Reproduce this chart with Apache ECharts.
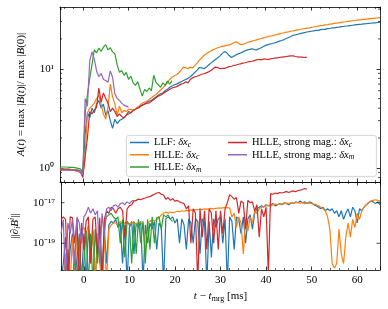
<!DOCTYPE html>
<html><head><meta charset="utf-8">
<script src="https://cdn.jsdelivr.net/npm/echarts@6/dist/echarts.min.js"></script>
<style>html,body{margin:0;padding:0;background:#fff}#c{width:388px;height:309px}</style>
</head><body><div id="c"></div>
<script>
// ---- time samples [ms] ----
const time = [-5,-4.5,-4,-3.5,-3,-2.5,-2,-1.5,-1,-0.5,0,0.5,1,1.5,2,2.5,3,3.5,4,4.5,5,5.5,6,6.5,7,7.5,8,8.5,9,9.5,10,10.5,11,11.5,12,12.5,13,13.5,14,14.5,15,15.5,16,16.5,17,17.5,18,18.5,19,19.5,20,20.5,21,21.5,22,22.5,23,23.5,24,24.5,25,25.5,26,26.5,27,27.5,28,28.5,29,29.5,30,30.5,31,31.5,32,32.5,33,33.5,34,34.5,35,35.5,36,36.5,37,37.5,38,38.5,39,39.5,40,40.5,41,41.5,42,42.5,43,43.5,44,44.5,45,45.5,46,46.5,47,47.5,48,48.5,49,49.5,50,50.5,51,51.5,52,52.5,53,53.5,54,54.5,55,55.5,56,56.5,57,57.5,58,58.5,59,59.5,60,60.5,61,61.5,62,62.5,63,63.5,64,64.5,65];

// ---- top panel: A(t) ----
const topLLF = [0.97,0.97,0.97,0.97,0.97,0.96,0.96,0.96,0.95,0.93,
0.9,2.2,3.6,3.2,4.0,3.6,4.4,4.8,4.0,4.4,
3.4,3.8,3.0,2.5,3.1,2.8,3.0,3.1,3.2,3.4,
3.5,3.6,3.8,3.9,4.1,4.2,4.3,4.4,4.6,4.7,
4.8,5.0,5.2,5.4,5.6,5.7,6.0,6.2,6.5,6.7,
6.9,7.0,7.2,7.4,7.6,7.8,8.0,8.3,8.7,9.2,
9.7,10.3,10.2,10.0,10.4,10.9,11.4,11.9,12.4,12.9,
13.5,14.3,14.9,14.5,13.6,13.0,13.4,13.8,14.2,14.4,
14.8,15.2,15.5,15.7,15.9,15.6,15.5,15.9,16.3,16.8,
17.2,17.5,17.8,18.0,18.3,18.6,19.0,19.3,19.7,20.2,
20.7,21.2,21.8,22.0,22.3,22.6,22.9,23.2,23.5,23.7,
23.9,24.1,24.4,24.4,24.8,25.0,25.0,25.4,25.5,25.8,
25.9,26.2,26.3,26.6,26.7,27.0,27.1,27.3,27.5,27.7,
27.9,28.1,28.2,28.4,28.5,28.7,28.8,29.0,29.1,29.3,
29.5];
const topHLLEc = [0.97,0.97,0.97,0.97,0.96,0.96,0.96,0.95,0.94,0.92,
0.86,1.3,3.6,4.0,4.2,4.5,5.0,5.4,4.4,3.5,
3.1,4.1,7.0,5.2,4.4,3.4,4.2,3.6,3.8,3.7,
3.9,3.9,3.8,3.9,4.1,4.3,4.5,4.6,4.7,4.9,
5.1,5.3,5.5,5.8,6.1,6.4,6.8,7.2,7.8,8.2,
8.5,8.7,9.1,9.7,10.4,10.2,10.0,10.4,10.2,10.8,
11.4,12.2,12.9,13.6,14.2,14.7,15.1,15.5,15.9,16.3,
16.6,16.8,17.0,17.2,17.4,17.8,18.3,18.7,18.2,17.5,
17.6,18.0,18.4,18.7,19.0,19.3,19.6,19.9,20.2,20.5,
20.8,21.1,21.4,21.6,21.9,22.2,22.5,22.8,23.1,23.4,
23.6,23.9,24.1,24.4,24.7,24.9,25.2,25.4,25.7,25.9,
26.2,26.4,26.7,26.9,27.2,27.4,27.7,27.9,28.2,28.4,
28.7,28.9,29.1,29.4,29.6,29.8,30.1,30.3,30.5,30.7,
30.9,31.1,31.3,31.5,31.7,31.9,32.1,32.3,32.5,32.6,
32.8];
const topHLLEm = [1.02,1.02,1.02,1.02,1.01,1.01,1.01,1.0,0.99,0.97,
0.9,3.5,5.5,8.0,11.0,15.5,14.5,16.2,15.0,16.5,
17.5,15.5,16.3,14.8,14.2,11.0,9.2,9.6,8.6,9.2,
7.8,8.4,7.2,6.8,7.4,6.2,5.3,6.2,5.9,6.4,
6.0,8.6,7.3,6.9,6.5,7.2,6.8,7.5,7.0,7.6];
const topStrongC = [0.96,0.96,0.96,0.96,0.95,0.95,0.95,0.94,0.93,0.9,
0.8,1.3,2.0,3.7,3.5,3.8,4.1,6.4,4.6,5.7,
5.0,4.5,3.7,4.0,3.7,3.3,3.5,3.3,3.2,3.4,
3.7,3.6,3.8,3.9,4.0,4.1,4.3,4.4,4.5,4.5,
4.7,4.9,5.1,5.3,5.4,5.6,5.8,6.0,6.2,6.4,
6.5,6.6,6.8,7.0,7.1,7.4,7.2,7.8,8.1,8.3,
8.4,8.6,8.8,8.9,9.1,9.3,9.6,10.0,10.4,10.3,
10.0,10.1,10.1,10.3,10.5,10.6,10.8,10.9,11.1,11.2,
11.4,11.5,11.7,11.8,11.9,12.1,12.3,12.4,12.3,12.5,
12.5,12.4,12.6,12.7,12.8,12.9,13.0,13.1,13.2,13.3,
13.4,13.5,13.5,13.3,13.2,13.1,13.1,13.0,13.0];
const topStrongM = [0.95,0.95,0.95,0.95,0.95,0.94,0.94,0.93,0.92,0.9,
0.85,5.0,4.2,12.0,14.8,12.5,9.5,8.3,9.0,7.8,
7.6,7.3,9.5,8.2,5.6,5.0,4.8,4.5,4.3,4.2,
4.1];

// ---- bottom panel: ||d_i B^i|| ----
const botLLF = [1e-21,1e-20,2e-19,1e-21,5e-20,3e-19,1e-21,2e-20,2e-19,1e-21,
3e-19,1e-21,5e-19,3e-20,4e-19,1e-21,2e-19,6e-19,1e-21,5e-19,
1e-20,8e-19,1.2e-18,1e-18,1.5e-18,6e-19,1e-18,1e-20,8e-19,1e-21,
6e-19,1.2e-18,3e-20,1e-18,6e-19,1.2e-18,1e-21,8e-19,1e-19,1e-18,
5e-19,1.2e-18,5e-20,1e-18,6e-19,1e-21,1.6e-18,2e-18,1.6e-18,2e-18,
1e-18,1.6e-18,1e-19,1.6e-18,8e-19,5e-20,1.6e-18,1e-18,1e-19,1.6e-18,
1.2e-18,3e-20,1.6e-18,1e-18,1e-21,1.2e-18,2e-20,1.6e-18,6e-19,1.6e-18,
2e-18,1e-19,1.6e-18,1e-21,2e-18,1.2e-18,5e-20,2e-18,1.6e-18,3e-19,
2e-18,1e-19,1.6e-18,2.5e-18,5e-19,3e-18,5e-18,6e-18,7e-18,6e-18,
8e-18,7e-18,8e-18,9e-18,7e-18,8e-18,9e-18,8e-18,1e-17,9e-18,
8e-18,1e-17,9e-18,1.1e-17,1e-17,1.2e-17,1e-17,1.1e-17,9e-18,1.1e-17,
1e-17,8e-18,7e-18,6e-18,5e-18,6e-18,4e-18,5e-18,4e-18,5e-18,
3e-18,4e-18,2e-18,4e-18,1.5e-18,3e-18,5e-18,2e-18,6e-18,4e-18,
1e-18,5e-18,4e-18,6e-18,8e-18,1e-17,1.2e-17,1.1e-17,9e-18,1.1e-17,
8e-18];
const botHLLEc = [1e-21,1e-21,3e-20,1e-21,1e-21,2e-19,1e-21,5e-19,1e-20,4e-19,
6e-19,3e-19,8e-19,1e-20,5e-19,1e-21,3e-19,1e-20,1e-21,2e-19,
1e-21,5e-19,8e-19,1e-18,1e-18,8e-19,1.2e-18,9e-19,1e-18,1.1e-18,
9e-19,1e-18,1.1e-18,9e-19,1.1e-18,1e-18,9e-19,3e-20,1e-18,1.2e-18,
1.4e-18,1.3e-18,1.5e-18,1.8e-18,2.5e-18,3e-18,3.5e-18,3e-18,3.5e-18,3.2e-18,
3.5e-18,3.8e-18,3.6e-18,4e-18,3.8e-18,4.2e-18,4e-18,4.4e-18,4.2e-18,4.6e-18,
4.5e-18,4.8e-18,4.6e-18,5e-18,4.8e-18,5e-18,5.2e-18,5e-18,5.3e-18,5.5e-18,
5.4e-18,5.6e-18,5.8e-18,5.6e-18,5.5e-18,2e-18,3e-18,6e-19,2e-18,1e-18,
3e-20,1.5e-18,4e-19,2e-18,1e-18,4e-18,3e-18,5e-18,6e-18,6.5e-18,
7e-18,7.5e-18,7e-18,8e-18,8.5e-18,8e-18,9e-18,8.5e-18,9e-18,9.5e-18,
9e-18,1e-17,9.5e-18,1e-17,1e-17,9.5e-18,1e-17,9e-18,1e-17,9.5e-18,
9e-18,8.5e-18,8e-18,7e-18,6e-18,5e-18,4e-18,2e-18,5e-19,1e-20,
6e-21,1e-20,5e-19,3e-20,1e-20,2e-19,1e-18,2e-19,1.5e-18,6e-19,
3e-18,1.5e-18,4e-18,6e-18,8e-18,1e-17,1.2e-17,1.3e-17,1.4e-17,1.3e-17,
1.2e-17];
const botHLLEm = [1e-21,1e-21,1e-21,5e-20,1e-21,1e-21,2e-20,1e-21,3e-19,1e-21,
1e-20,4e-19,1e-21,3e-19,1e-21,5e-19,1e-20,8e-19,1e-21,1e-18,
2e-18,2.5e-18,3e-18,2e-18,1.5e-18,2e-18,1e-19,1.5e-18,2e-20,1.2e-18,
8e-19,1e-20,1.2e-18,3e-20,1.5e-18,1e-19,1.2e-18,1e-20,1.5e-18,5e-20,
2e-18,1e-19,1.8e-18,2e-18,5e-19,2.5e-18,2e-18,2.5e-18,1.5e-18,1.2e-18];
const botStrongC = [1.5e-18,2e-18,1.5e-18,1e-21,2e-18,1.8e-18,1e-19,1.5e-18,1e-21,1e-18,
5e-20,1.2e-18,2e-18,1e-20,1.5e-18,2e-18,3e-20,1.8e-18,1e-21,1.5e-18,
4e-18,3e-18,6e-18,5e-18,3e-18,5e-18,6e-18,4e-18,2e-19,5e-18,
7e-18,8e-18,1.2e-17,1.3e-17,1.5e-17,1.4e-17,1.6e-17,1.7e-17,1.9e-17,2e-17,
2.3e-17,2.6e-17,3e-17,3.2e-17,2.6e-17,2.4e-17,1.5e-17,1.8e-17,1.3e-17,1.6e-17,
1.2e-17,1.3e-17,1.1e-17,1e-17,9e-18,5e-18,7e-18,1e-19,5e-18,3e-18,
1e-21,5e-18,2e-19,4e-18,5e-20,5e-18,3e-18,1e-19,4e-18,5e-20,
4e-18,3e-19,5e-18,1e-17,2.5e-17,2e-17,1.5e-17,1.8e-17,3e-18,1.2e-17,
1e-17,5e-19,1.3e-17,1e-17,1.1e-17,4e-18,8e-18,2e-19,5e-18,2e-18,
6e-18,3e-21,2.8e-17,2.6e-17,3e-17,2.8e-17,3.2e-17,3e-17,3.3e-17,3.5e-17,
3.2e-17,3.6e-17,3.8e-17,3.5e-17,4e-17,4.2e-17,4.5e-17,5e-17,4.6e-17];
const botStrongM = [3e-19,1.5e-18,1e-21,1e-18,3e-19,1.5e-18,1e-20,2e-18,1e-18,1e-19,
2e-18,3e-18,6e-18,3e-18,5e-18,2.5e-18,4e-18,1e-20,3e-18,2e-19,
5e-18,6e-18,4e-18,7e-18,8e-18,6e-18,9e-18,1e-17,8e-18,1.1e-17,
9e-18,1.2e-17,1.3e-17];

// ---- labels / ticks ----
const seriesNames = ['LLF: δx_c','HLLE: δx_c','HLLE: δx_m','HLLE, strong mag.: δx_c','HLLE, strong mag.: δx_m'];
const legendRich = ['{n|LLF: }{i|δx}{s|c}','{n|HLLE: }{i|δx}{s|c}','{n|HLLE: }{i|δx}{s|m}','{n|HLLE, strong mag.: }{i|δx}{s|c}','{n|HLLE, strong mag.: }{i|δx}{s|m}'];
const colors = ['#1f77b4','#ff7f0e','#2ca02c','#d62728','#9467bd'];
const xRange = [-5, 65];
const topRange = [0.72, 42];
const botRange = [4.8e-21, 1.05e-16];
const topMajorLabels = [0, 1];
const botMajorLabels = [-17, -19];
const topMinorTicks = [0.8, 0.9, 2, 3, 4, 5, 6, 7, 8, 9, 20, 30, 40];
const botMajorTicks = [1e-17, 1e-19];

const FONT = 'Liberation Serif';
const sup = {'-':'⁻','0':'⁰','1':'¹','2':'²','3':'³','4':'⁴','5':'⁵','6':'⁶','7':'⁷','8':'⁸','9':'⁹'};
function powLabel(allowed) {
  return function (v) {
    const e = Math.log10(v); const r = Math.round(e);
    if (Math.abs(e - r) > 1e-6 || allowed.indexOf(r) < 0) return '';
    return '10' + String(r).split('').map(c => sup[c]).join('');
  };
}
function richSet(fs) {
  return {
    n: {fontFamily: FONT, fontSize: fs, color: '#000', lineHeight: fs + 3},
    i: {fontFamily: FONT, fontSize: fs, fontStyle: 'italic', color: '#000', lineHeight: fs + 3},
    s: {fontFamily: FONT, fontSize: fs * 0.72, fontStyle: 'italic', color: '#000', lineHeight: fs * 0.8, verticalAlign: 'bottom'},
    r: {fontFamily: FONT, fontSize: fs * 0.72, color: '#000', lineHeight: fs * 0.8, verticalAlign: 'bottom'},
    p: {fontFamily: FONT, fontSize: fs * 0.72, fontStyle: 'italic', color: '#000', lineHeight: fs * 0.8, verticalAlign: 'top'}
  };
}
const black = {color: '#000', width: 0.8};

function xAxis(grid, pos, labels) {
  return {
    type: 'value', gridIndex: grid, position: pos, min: xRange[0], max: xRange[1],
    axisLine: {show: true, onZero: false, lineStyle: black},
    axisTick: {show: true, inside: true, length: 3.5, lineStyle: black},
    minorTick: {show: true, splitNumber: 5, length: 2, lineStyle: {color: '#000', width: 0.6}},
    splitLine: {show: false}, minorSplitLine: {show: false},
    axisLabel: labels ? {show: true, margin: 5, color: '#000', fontFamily: FONT, fontSize: 11, showMinLabel: false, showMaxLabel: false} : {show: false},
    name: labels ? '{i|t}{n| − }{i|t}{r|mrg}{n| [ms]}' : '',
    nameLocation: 'middle', nameGap: 19,
    nameTextStyle: {rich: richSet(11)}
  };
}
function yAxis(grid, pos, range, labelVals, showTicks, name, gap) {
  return {
    type: 'log', logBase: 10, gridIndex: grid, position: pos, min: range[0], max: range[1],
    axisLine: {show: true, onZero: false, lineStyle: black},
    axisTick: {show: showTicks, inside: true, length: 3.5, lineStyle: black},
    splitLine: {show: false},
    axisLabel: labelVals ? {show: true, margin: 6, color: '#000', fontFamily: FONT, fontSize: 11, formatter: powLabel(labelVals), showMinLabel: false, showMaxLabel: false} : {show: false},
    name: name || '', nameLocation: 'middle', nameGap: gap || 0,
    nameTextStyle: {rich: richSet(11)}
  };
}
function tickSeries(xi, yi, values, len) {
  return {
    type: 'custom', xAxisIndex: xi, yAxisIndex: yi, silent: true, clip: false, z: 5,
    data: values.map(v => [xRange[0], v]),
    encode: {x: 0, y: 1},
    renderItem: function (params, api) {
      const v = api.value(1);
      const l = api.coord([xRange[0], v]);
      const r = api.coord([xRange[1], v]);
      const st = {stroke: '#000', lineWidth: 0.7};
      return {type: 'group', children: [
        {type: 'line', shape: {x1: l[0], y1: l[1], x2: l[0] + len, y2: l[1]}, style: st},
        {type: 'line', shape: {x1: r[0] - len, y1: r[1], x2: r[0], y2: r[1]}, style: st}
      ]};
    }
  };
}
function pairs(arr) { return arr.map((v, i) => [time[i], v]); }
function lineSeries(idx, arr, xi, yi) {
  return {
    type: 'line', name: seriesNames[idx], xAxisIndex: xi, yAxisIndex: yi, data: pairs(arr),
    showSymbol: false, symbol: 'none', clip: true, z: 2,
    lineStyle: {color: colors[idx], width: 1.2}, itemStyle: {color: colors[idx]}
  };
}
const topData = [topLLF, topHLLEc, topHLLEm, topStrongC, topStrongM];
const botData = [botLLF, botHLLEc, botHLLEm, botStrongC, botStrongM];

const series = [];
topData.forEach((a, i) => series.push(lineSeries(i, a, 0, 0)));
botData.forEach((a, i) => series.push(Object.assign(lineSeries(i, a, 2, 2), {name: seriesNames[i] + ' '})));
series.push(tickSeries(0, 0, topMinorTicks, 2));
series.push(tickSeries(2, 2, botMajorTicks, 3.5));

function legendCfg(names, left) {
  return {
    data: names.map(n => ({name: n, icon: 'rect'})), orient: 'vertical', left: left, top: 137, padding: 0, itemGap: 0,
    itemWidth: 19, itemHeight: 1.5, selectedMode: false, z: 10,
    formatter: name => legendRich[seriesNames.indexOf(name)],
    textStyle: {rich: richSet(10.5)}
  };
}

const chart = echarts.init(document.getElementById('c'), null, {renderer: 'canvas'});
chart.setOption({
  animation: false,
  backgroundColor: '#fff',
  textStyle: {fontFamily: FONT},
  grid: [
    {left: 60, right: 8, top: 7, height: 175},
    {left: 60, right: 8, top: 182, height: 88}
  ],
  xAxis: [xAxis(0, 'bottom', false), xAxis(0, 'top', false), xAxis(1, 'bottom', true), xAxis(1, 'top', false)],
  yAxis: [
    yAxis(0, 'left', topRange, topMajorLabels, true, '{i|A}{n|(}{i|t}{n|) = max |}{i|B}{n|(}{i|t}{n|)|/ max |}{i|B}{n|(0)|}', 32),
    yAxis(0, 'right', topRange, null, true),
    yAxis(1, 'left', botRange, botMajorLabels, false, '{n|||∂}{s|i}{i|B}{p|i}{n|||}', 32),
    yAxis(1, 'right', botRange, null, false)
  ],
  legend: [legendCfg(seriesNames.slice(0, 3), 130), legendCfg(seriesNames.slice(3), 228)],
  graphic: [{type: 'rect', left: 126, top: 135, z: 8, shape: {width: 250, height: 41, r: 2.5},
    style: {fill: 'rgba(255,255,255,0.8)', stroke: '#cccccc', lineWidth: 0.8}}],
  series: series
});
</script></body></html>
